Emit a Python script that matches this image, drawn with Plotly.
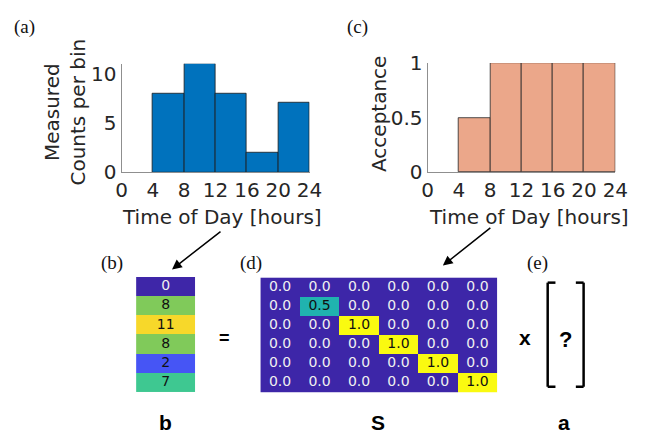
import plotly.graph_objects as go

W, H = 650, 447

# ---------------- data ----------------
bin_centers = [2, 6, 10, 14, 18, 22]
bin_width = 4
x_ticks = [0, 4, 8, 12, 16, 20, 24]
counts = [0, 8, 11, 8, 2, 7]
acceptance = [0, 0.5, 1, 1, 1, 1]
S_diag = [0.0, 0.5, 1.0, 1.0, 1.0, 1.0]
S_matrix = [[S_diag[i] if i == j else 0.0 for j in range(6)] for i in range(6)]

def px(x):
    return x / W

def py(y):
    return 1 - y / H

TICKFONT = dict(family="DejaVu Sans", size=20, color="#262626")
TITLEFONT = dict(family="DejaVu Sans", size=20, color="#262626")
AXCOL = "#8f8f8f"

fig = go.Figure()

# (a) histogram
fig.add_trace(go.Bar(x=bin_centers, y=counts, width=[bin_width] * 6,
                     marker=dict(color="#0072BD",
                                 line=dict(color="#1a1a1a",
                                           width=[0 if v == 0 else 0.8 for v in counts])),
                     xaxis="x", yaxis="y", showlegend=False))
# (c) acceptance
fig.add_trace(go.Bar(x=bin_centers, y=acceptance, width=[bin_width] * 6,
                     marker=dict(color="#EBA78A",
                                 line=dict(color="#262626",
                                           width=[0 if v == 0 else 0.8 for v in acceptance])),
                     xaxis="x2", yaxis="y2", showlegend=False))

# (b) vector b
b_vals = [0, 2, 7, 8, 11]
b_cols = ["#3E26A8", "#4655F5", "#3EC891", "#80CA5A", "#F7D82A"]
b_scale = [[v / 11, c] for v, c in zip(b_vals, b_cols)]
fig.add_trace(go.Heatmap(z=[[c] for c in counts], x=[0], y=list(range(6)),
                         colorscale=b_scale, zmin=0, zmax=11, showscale=False,
                         xaxis="x3", yaxis="y3", hoverinfo="skip"))
fig.add_trace(go.Scatter(x=[0] * 6, y=list(range(6)), mode="text",
                         text=[str(c) for c in counts],
                         textfont=dict(family="DejaVu Sans", size=14,
                                       color=["#f0f0f0" if c == 0 else "#111111" for c in counts]),
                         xaxis="x3", yaxis="y3", showlegend=False, hoverinfo="skip"))

# (d) matrix S
s_scale = [[0, "#3D26A8"], [0.5, "#20B3AF"], [1, "#FAFA10"]]
fig.add_trace(go.Heatmap(z=S_matrix, x=list(range(6)), y=list(range(6)),
                         colorscale=s_scale, zmin=0, zmax=1, showscale=False,
                         xaxis="x4", yaxis="y4", hoverinfo="skip"))
sx, sy, st, sc = [], [], [], []
for i in range(6):
    for j in range(6):
        v = S_matrix[i][j]
        sx.append(j); sy.append(i); st.append(f"{v:.1f}")
        sc.append("#f0f0f0" if v == 0 else "#111111")
fig.add_trace(go.Scatter(x=sx, y=sy, mode="text", text=st,
                         textfont=dict(family="DejaVu Sans", size=14, color=sc),
                         xaxis="x4", yaxis="y4", showlegend=False, hoverinfo="skip"))

common_x = dict(range=[0, 24], tickvals=x_ticks, showgrid=False, zeroline=False,
                showline=True, linecolor=AXCOL, linewidth=1, ticks="", tickfont=TICKFONT)
common_y = dict(showgrid=False, zeroline=False, showline=True, linecolor=AXCOL,
                linewidth=1, ticks="", tickfont=TICKFONT)

fig.update_layout(
    width=W, height=H, margin=dict(l=0, r=0, t=0, b=0),
    paper_bgcolor="white", plot_bgcolor="white",
    xaxis=dict(domain=[px(119), px(312.7)], anchor="y", **common_x),
    yaxis=dict(domain=[py(169.3), py(54.6)], anchor="x", range=[0, 11],
               tickvals=[0, 5, 10], **common_y),
    xaxis2=dict(domain=[px(434.3), px(627.7)], anchor="y2", **common_x),
    yaxis2=dict(domain=[py(169.3), py(54)], anchor="x2", range=[0, 1],
                tickvals=[0, 0.5, 1], ticktext=["0", "0.5", "1"], **common_y),
    xaxis3=dict(domain=[px(134), px(195)], anchor="y3", range=[-0.5, 0.5], visible=False),
    yaxis3=dict(domain=[py(402), py(280)], anchor="x3", range=[5.5, -0.5], visible=False),
    xaxis4=dict(domain=[px(262), px(506)], anchor="y4", range=[-0.5, 5.5], visible=False),
    yaxis4=dict(domain=[py(402), py(280.5)], anchor="x4", range=[5.5, -0.5], visible=False),
    bargap=0,
)

ann = []
def label(x, y, text, font, **kw):
    ann.append(dict(x=px(x), y=py(y), xref="paper", yref="paper", text=text,
                    showarrow=False, font=font, xanchor="center", yanchor="middle", **kw))

SERIF = dict(family="Liberation Serif", size=19, color="#111111")
BOLD = dict(family="Liberation Sans", size=21, color="#000000")
label(19, 16, "(a)", SERIF)
label(362, 16, "(c)", SERIF)
label(109, 265, "(b)", SERIF)
label(252, 265, "(d)", SERIF)
label(548, 265, "(e)", SERIF)
label(61, 106, "Measured<br>Counts per bin", TITLEFONT, textangle=-90)
label(384, 108, "Acceptance", TITLEFONT, textangle=-90)
label(223, 217, "Time of Day [hours]", TITLEFONT)
label(539, 217, "Time of Day [hours]", TITLEFONT)
label(164, 434, "<b>b</b>", BOLD)
label(383, 434, "<b>S</b>", BOLD)
label(575, 434, "<b>a</b>", BOLD)
label(225, 344, "<b>=</b>", dict(family="Liberation Sans", size=18, color="#000"))
label(535, 344, "<b>x</b>", BOLD)
label(576, 346, "<b>?</b>", dict(family="Liberation Sans", size=22, color="#000"))

# arrows
for (hx, hy, tx, ty) in [(171, 272, 221, 233), (450, 268, 499, 229)]:
    ann.append(dict(x=px(hx), y=py(hy), xref="paper", yref="paper", text="",
                    showarrow=True, ax=tx - hx, ay=ty - hy, axref="pixel", ayref="pixel",
                    arrowhead=2, arrowsize=1.3, arrowwidth=1.5, arrowcolor="#000"))
fig.update_layout(annotations=ann)

# bracket around unknown vector a
shapes = []
def seg(x0, y0, x1, y1):
    shapes.append(dict(type="line", xref="paper", yref="paper",
                       x0=px(x0), y0=py(y0), x1=px(x1), y1=py(y1),
                       line=dict(color="#000", width=2.5)))
seg(558, 286, 558, 396); seg(558, 286, 566, 286); seg(558, 396, 566, 396)
seg(595, 286, 595, 396); seg(587, 286, 595, 286); seg(587, 396, 595, 396)
fig.update_layout(shapes=shapes)

fig.write_html("out.html")
